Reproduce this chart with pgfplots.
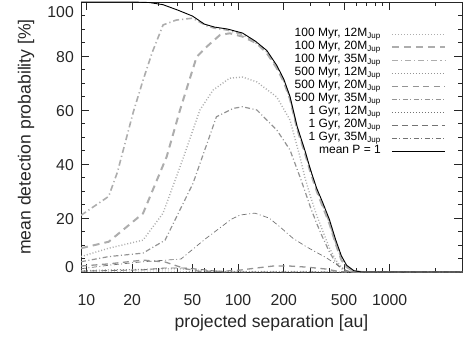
\documentclass[border=0pt]{standalone}
\usepackage{fontspec}
\setmainfont{Liberation Sans}
\usepackage{pgfplots}
\pgfplotsset{compat=1.18}
\definecolor{gA}{gray}{0.68}
\definecolor{gB}{gray}{0.58}
\definecolor{gC}{gray}{0.45}
\begin{document}
\begin{tikzpicture}
\begin{axis}[
 name=ax, scale only axis, width=381pt, height=270pt,
 xmode=log, xmin=9.2, xmax=3000, ymin=0, ymax=100,
 xtick={10,20,50,100,200,500,1000}, xticklabels={10,20,50,100,200,500,1000},
 minor xtick={30,40,60,70,80,90,300,400,600,700,800,900,2000,3000},
 ytick={0,20,40,60,80,100},
 yticklabels={\smash{\raisebox{0.85pt}{0}},20,40,60,80,\smash{\raisebox{-13.6pt}{100}}},
 minor y tick num=3,
 tick align=inside, major tick length=8pt, minor tick length=4pt,
 axis line style={line width=0.8pt, black!85},
 every tick/.style={black!85, line width=0.7pt},
 tick label style={font=\fontsize{15.8}{18}\selectfont, inner sep=0pt, text=black!85},
 xticklabel style={yshift=-22pt},
 yticklabel style={xshift=-7pt, yshift=-1.5pt},
 xlabel={projected separation [au]},
 ylabel={mean detection probability [\%]},
 every axis x label/.style={at={(axis description cs:0.5,0)}, anchor=center, yshift=-51pt,
   font=\fontsize{17.6}{20}\selectfont, text=black!85},
 every axis y label/.style={at={(axis description cs:-0.144,0.5)}, anchor=center, rotate=90,
   font=\fontsize{17.6}{20}\selectfont, text=black!85},
 legend style={at={(0.958,0.905)}, anchor=north east, draw=none, fill=none, inner sep=0pt,
   font=\fontsize{12}{13}\selectfont, row sep=0pt, column sep=10pt,
   nodes={inner sep=0pt, text height=8.6pt, text depth=4.4pt}},
 legend cell align=right, legend plot pos=right,
 legend image code/.code={\draw[#1] (0pt,0pt) -- (53pt,0pt);},
]
% 100 Myr, 12 MJup (dotted)
\addplot[gA, line width=1.4pt, dash pattern=on 1pt off 2pt] coordinates {
(9.2,5.7) (14,8.8) (23.6,11.8) (32,21.8) (43,41.5) (56,60) (68.5,67.4) (88,71.8) (107,72.2) (133,70.4) (180,64.8) (220,56.3) (256,42.6) (276,35) (300,28) (330,21) (360,15.5) (400,9) (440,4.5) (480,1.8) (520,0.5) (580,0) (3000,0)};
\addlegendentry{100 Myr, 12M\textsubscript{Jup}}
% 100 Myr, 20 MJup (dashed)
\addplot[gA, line width=2pt, dash pattern=on 7pt off 5pt] coordinates {
(9.2,8.8) (14,11.2) (23.6,21.7) (33.8,42.7) (41.4,60) (53.3,79.7) (62,83.4) (76,87.8) (88,88.4) (107,87.2) (132.6,84.7) (155,81) (180,75.5) (200,70.5) (220,64) (245,53) (276,44) (300,37) (330,30) (360,24.5) (400,18) (440,10.5) (480,4.5) (520,1.8) (580,0.3) (650,0) (3000,0)};
\addlegendentry{100 Myr, 20M\textsubscript{Jup}}
% 100 Myr, 35 MJup (dash-dot)
\addplot[gA, line width=1.6pt, dash pattern=on 6pt off 3pt on 1.2pt off 3pt] coordinates {
(9.2,21) (14,28) (16,37) (20.3,59) (23.6,71) (27,81) (32,91.5) (39,93.3) (50,94) (62,91.2) (70,90.3) (85,89.6) (107,88) (130,85) (155,81.5) (180,76) (200,71) (220,64.5) (245,53.5) (276,44.5) (300,37.5) (330,30.5) (360,25) (400,18.5) (440,11) (480,5) (520,2) (580,0.3) (650,0) (3000,0)};
\addlegendentry{100 Myr, 35M\textsubscript{Jup}}
% 500 Myr, 12 MJup (dotted)
\addplot[gB, line width=1pt, dash pattern=on 0.8pt off 2.2pt] coordinates {
(9.2,0.5) (14,0.8) (23.6,1) (40,1.2) (55,0.7) (80,0.2) (150,0.2) (300,0.2) (450,0) (3000,0)};
\addlegendentry{500 Myr, 12M\textsubscript{Jup}}
% 500 Myr, 20 MJup (dashed)
\addplot[gB, line width=1.3pt, dash pattern=on 6pt off 4.5pt] coordinates {
(9.2,2.2) (14,3) (23.6,4.4) (33,3.7) (45,1.2) (55,0.3) (80,0.3) (103,0.7) (133,1.5) (170,2.2) (220,2.2) (285,1.8) (380,1.1) (470,0.1) (550,0) (3000,0)};
\addlegendentry{500 Myr, 20M\textsubscript{Jup}}
% 500 Myr, 35 MJup (dash-dot)
\addplot[gB, line width=1.2pt, dash pattern=on 5pt off 2.5pt on 1pt off 2.5pt] coordinates {
(9.2,3.8) (14,5.7) (23.6,7) (33,11.8) (50.4,32.8) (72,57.5) (93,60.6) (107,61.2) (133,60) (180,52.6) (220,45.2) (256,35.2) (276,30) (300,24) (330,18) (360,13) (400,7.5) (440,3.5) (480,1.2) (520,0.3) (580,0) (3000,0)};
\addlegendentry{500 Myr, 35M\textsubscript{Jup}}
% 1 Gyr, 12 MJup (dotted)
\addplot[gC, line width=0.7pt, dash pattern=on 0.7pt off 2.3pt] coordinates {
(9.2,0.2) (30,0.4) (60,0.1) (3000,0)};
\addlegendentry{1 Gyr, 12M\textsubscript{Jup}}
% 1 Gyr, 20 MJup (dashed)
\addplot[gC, line width=0.9pt, dash pattern=on 6pt off 4pt] coordinates {
(9.2,0.3) (23.6,0.8) (33,1.5) (45,1.5) (60,0.8) (80,0) (3000,0)};
\addlegendentry{1 Gyr, 20M\textsubscript{Jup}}
% 1 Gyr, 35 MJup (dash-dot)
\addplot[gC, line width=0.7pt, dash pattern=on 5pt off 2.5pt on 1pt off 2.5pt] coordinates {
(9.2,1.2) (14,2.5) (23.6,3.8) (42,4.8) (60,12) (90,19.5) (103,21.1) (129,21.8) (160,20) (189,16.7) (230,12.5) (283,9.3) (384,5.2) (470,1.9) (530,0.3) (600,0) (3000,0)};
\addlegendentry{1 Gyr, 35M\textsubscript{Jup}}
% mean P = 1
\addplot[black, line width=0.9pt] coordinates {
(9.2,100) (20,100) (26,99.8) (32,99) (40,97) (50,94.8) (60,91.8) (70,90.7) (85,90) (107,88.5) (130,85.5) (155,82) (180,76.5) (200,71.5) (220,65) (245,54) (276,45) (300,38) (330,31) (360,26) (400,19.5) (440,12) (480,6) (520,2.5) (580,0.5) (650,0) (3000,0)};
\addlegendentry{mean P = 1}
\end{axis}
\pgfresetboundingbox
\path ([xshift=-81pt,yshift=-71pt]ax.south west) rectangle ([xshift=1pt,yshift=2pt]ax.north east);
\end{tikzpicture}
\end{document}
